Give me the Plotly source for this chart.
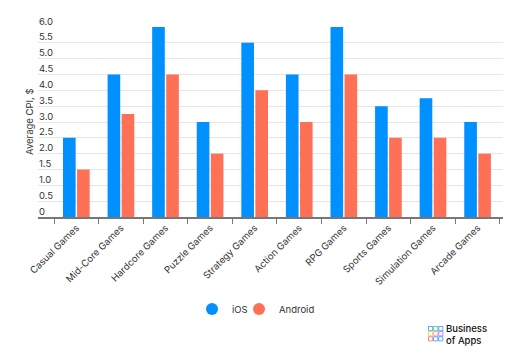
import plotly.graph_objects as go

categories = ["Casual Games", "Mid-Core Games", "Hardcore Games", "Puzzle Games",
              "Strategy Games", "Action Games", "RPG Games", "Sports Games",
              "Simulation Games", "Arcade Games"]
ios = [2.5, 4.5, 6.0, 3.0, 5.5, 4.5, 6.0, 3.5, 3.75, 3.0]
android = [1.5, 3.25, 4.5, 2.0, 4.0, 3.0, 4.5, 2.5, 2.5, 2.0]
y_ticks = [0, 0.5, 1.0, 1.5, 2.0, 2.5, 3.0, 3.5, 4.0, 4.5, 5.0, 5.5, 6.0]
y_ticklabels = ["0", "0.5", "1.0", "1.5", "2.0", "2.5", "3.0", "3.5", "4.0", "4.5", "5.0", "5.5", "6.0"]

BLUE = "#0090FF"
ORANGE = "#FF7157"
FONT = "Inter, Roboto, sans-serif"
TXT = "#333333"

W, H = 512, 353
L, R, T, B = 38, 9, 27, 136
PW, PH = W - L - R, H - T - B


def px(x):
    return (x - L) / PW


def py(y):
    return (H - B - y) / PH


fig = go.Figure()
fig.add_trace(go.Bar(x=categories, y=ios, name="iOS", marker_color=BLUE,
                     marker_line_width=0, showlegend=False))
fig.add_trace(go.Bar(x=categories, y=android, name="Android", marker_color=ORANGE,
                     marker_line_width=0, showlegend=False))
fig.add_trace(go.Scatter(x=[None], y=[None], mode="markers", name="iOS", legend="legend",
                         marker=dict(color=BLUE, size=11, symbol="circle")))
fig.add_trace(go.Scatter(x=[None], y=[None], mode="markers", name="Android", legend="legend2",
                         marker=dict(color=ORANGE, size=11, symbol="circle")))

leg_common = dict(orientation="h", yanchor="middle", xanchor="left",
                  font=dict(family=FONT, size=9.5, color=TXT),
                  itemsizing="constant", tracegroupgap=0, borderwidth=0,
                  bgcolor="rgba(0,0,0,0)")

fig.update_layout(
    width=W, height=H,
    margin=dict(l=L, r=R, t=T, b=B, pad=0, autoexpand=False),
    paper_bgcolor="white", plot_bgcolor="white",
    barmode="group", bargap=0.37, bargroupgap=0.1,
    font=dict(family=FONT, size=9.5, color=TXT),
    showlegend=True,
    legend=dict(x=px(192), y=py(309), **leg_common),
    legend2=dict(x=px(239), y=py(309), **leg_common),
    xaxis=dict(
        range=[-0.86, 9.57], tickangle=-45, tickson="boundaries", automargin=False,
        ticks="outside", ticklen=5, tickcolor="#777777", tickwidth=1,
        showline=True, linecolor="#777777", linewidth=1.5,
        showgrid=False, tickfont=dict(family=FONT, size=9.5, color=TXT),
    ),
    yaxis=dict(
        range=[0, 6.0], tickvals=y_ticks, automargin=False,
        showgrid=True, gridcolor="#E6E6E6", gridwidth=1,
        zeroline=False, showline=False, showticklabels=False, ticks="",
    ),
)

for v, t in zip(y_ticks, y_ticklabels):
    fig.add_annotation(xref="paper", yref="y", x=0, y=v, text=t, showarrow=False,
                       xanchor="left", yanchor="middle", yshift=6, xshift=-1,
                       font=dict(family=FONT, size=9.5, color=TXT))

fig.add_annotation(xref="paper", yref="paper", x=px(29), y=py(122), text="Average CPI, $",
                   textangle=-90, showarrow=False, xanchor="center", yanchor="middle",
                   font=dict(family=FONT, size=9.5, color=TXT))

# Business of Apps logo: 3x3 outlined squares + text
logo_colors = [["#5AA9FF", "#5CD6A0", "#5AA9FF"],
               ["#FFD24D", "#FF9FC0", "#B38CFF"],
               ["#FF8A80", "#5AA9FF", "#5AA9FF"]]
x0, y0, s, g = 428.5, 326.5, 4.2, 0.9
for r in range(3):
    for c in range(3):
        xa = x0 + c * (s + g)
        ya = y0 + r * (s + g)
        fig.add_shape(type="rect", xref="paper", yref="paper",
                      x0=px(xa), x1=px(xa + s), y0=py(ya + s), y1=py(ya),
                      line=dict(color=logo_colors[r][c], width=1), fillcolor="rgba(0,0,0,0)")
fig.add_annotation(xref="paper", yref="paper", x=px(444), y=py(334),
                   text="Business<br>of Apps", showarrow=False, xanchor="left", yanchor="middle",
                   align="left", font=dict(family=FONT, size=9.5, color="#111111", weight=500))

fig.write_html("out.html")
